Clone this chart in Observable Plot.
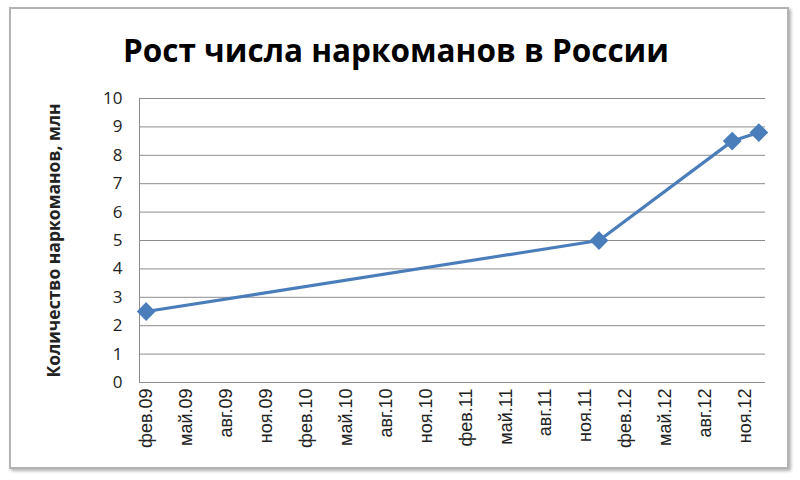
<!DOCTYPE html>
<html><head><meta charset="utf-8">
<script src="https://cdn.jsdelivr.net/npm/d3@7"></script>
<script src="https://cdn.jsdelivr.net/npm/@observablehq/plot@0.6"></script>
<style>
body{margin:0;background:#fff;}
#wrap{position:relative;width:800px;height:480px;overflow:hidden;}
#frame{position:absolute;left:9px;top:7px;width:776px;height:458px;border:2px solid #b3b3b3;box-shadow:2px 2px 3px rgba(0,0,0,0.3);pointer-events:none;}
#title{height:80px;width:792px;text-align:center;font-family:"Open Sans",sans-serif;font-weight:700;font-size:31.5px;line-height:100px;color:#000;}
#chart svg{display:block;}
</style>
</head><body>
<div id="wrap">
<div id="frame"></div>
<div id="title">Рост числа наркоманов в России</div>
<div id="chart"></div>
</div>
<script>
// data
const dates = ["2009-02", "2011-12", "2012-10", "2012-12"];
const values = [2.5, 5.0, 8.5, 8.8];
const tickDates = ["2009-02","2009-05","2009-08","2009-11","2010-02","2010-05","2010-08","2010-11","2011-02","2011-05","2011-08","2011-11","2012-02","2012-05","2012-08","2012-11"];
const tickLabels = ["фев.09","май.09","авг.09","ноя.09","фев.10","май.10","авг.10","ноя.10","фев.11","май.11","авг.11","ноя.11","фев.12","май.12","авг.12","ноя.12"];
const yTicks = [0,1,2,3,4,5,6,7,8,9,10];

// month slot (Excel date axis, base unit = month, points at slot centres)
const slot = s => { const [y, m] = s.split("-").map(Number); return (y - 2009) * 12 + (m - 2) + 0.5; };
const data = dates.map((d, i) => ({x: slot(d), y: values[i]}));
const labelBySlot = new Map(tickDates.map((d, i) => [slot(d), tickLabels[i]]));

const chart = Plot.plot({
  width: 800,
  height: 400,
  marginLeft: 139,
  marginRight: 35,
  marginTop: 18,
  marginBottom: 98,
  style: {fontFamily: "Open Sans, sans-serif", fontSize: "15px", color: "#222", background: "transparent"},
  x: {type: "linear", domain: [0, slot("2012-12") + 0.5]},
  y: {domain: [0, 10]},
  marks: [
    Plot.ruleY(yTicks.filter(v => v > 0), {stroke: "#8c8c8c", strokeWidth: 1}),
    Plot.ruleY([0], {stroke: "#8c8c8c", strokeWidth: 1}),
    Plot.ruleX([0], {stroke: "#8c8c8c", strokeWidth: 1}),
    Plot.axisX({ticks: tickDates.map(slot), tickFormat: v => labelBySlot.get(v), tickSize: 0, tickRotate: -90, tickPadding: 6, label: null, fontSize: 18, fontFamily: "Liberation Sans, Arial, sans-serif"}),
    Plot.axisY({ticks: yTicks, tickSize: 0, tickPadding: 17, fontSize: 17, label: "Количество наркоманов, млн", labelAnchor: "center", labelArrow: "none", labelOffset: 92}),
    Plot.line(data, {x: "x", y: "y", stroke: "#4a7ebb", strokeWidth: 3.2}),
    Plot.dot(data, {x: "x", y: "y", symbol: "diamond2", r: 7.5, fill: "#4a7ebb", stroke: "#4a7ebb"})
  ]
});
chart.querySelectorAll("g[aria-label='y-axis label']").forEach(e => {e.setAttribute("font-weight", "bold"); e.setAttribute("font-size", "17.5"); e.querySelectorAll("text").forEach(t => {t.setAttribute("font-size", "17.5"); t.setAttribute("font-weight", "bold");});});
document.getElementById("chart").appendChild(chart);
</script>
</body></html>
